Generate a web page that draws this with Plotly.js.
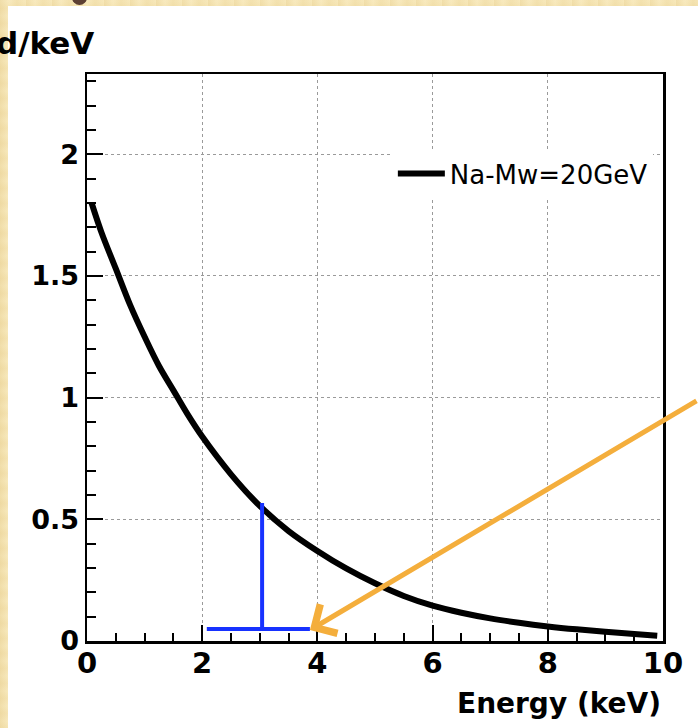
<!DOCTYPE html>
<html>
<head>
<meta charset="utf-8">
<script src="https://cdn.plot.ly/plotly-3.0.1.min.js"></script>
<style>
  html, body { margin: 0; padding: 0; }
  body {
    width: 698px; height: 728px; overflow: hidden; position: relative;
    background:
      repeating-linear-gradient(90deg, rgba(230,205,140,0.35) 0px, rgba(255,245,210,0.2) 9px, rgba(235,212,150,0.3) 17px, rgba(250,236,190,0.2) 26px),
      repeating-linear-gradient(0deg, rgba(238,215,155,0.35) 0px, rgba(252,240,200,0.2) 7px, rgba(236,210,148,0.3) 15px),
      #f5e5b6;
  }
  #panel { position: absolute; left: 8px; top: 6px; width: 690px; height: 722px; background: #ffffff; }
  #dot { position: absolute; left: 72px; top: -10px; width: 15px; height: 15px; border-radius: 50%; background: #5d4033; }
  #chart { position: absolute; left: 0; top: 0; width: 698px; height: 728px; }
</style>
</head>
<body>
<div id="panel"></div>
<div id="dot"></div>
<div id="chart"></div>
<script>
// Spectrum (Energy in keV, rate per keV)
const energy = [0.08, 0.25, 0.5, 0.75, 1.0, 1.25, 1.5, 1.75, 2.0, 2.5, 3.0, 3.5, 4.0, 4.5, 5.0, 5.5, 6.0, 6.5, 7.0, 7.5, 8.0, 8.5, 9.0, 9.5, 9.9];
const rate   = [1.80, 1.68, 1.53, 1.38, 1.25, 1.13, 1.03, 0.93, 0.84, 0.685, 0.555, 0.452, 0.37, 0.298, 0.237, 0.185, 0.145, 0.116, 0.093, 0.075, 0.06, 0.048, 0.038, 0.029, 0.022];
const seriesName = "Na-Mw=20GeV";

// Blue threshold marker and orange arrow target (data coordinates)
const markerVX = [3.04, 3.04];
const markerVY = [0.045, 0.567];
const markerHX = [2.08, 3.87];
const markerHY = [0.049, 0.049];
const arrowTip = [3.87, 0.045];

const xTitle = "Energy (keV)";
const yTitleFragment = "d/keV";

const boldFont = "DejaVu Sans, Liberation Sans, Arial, sans-serif";

const traces = [{
  x: energy, y: rate, type: "scatter", mode: "lines", name: seriesName,
  line: { color: "#000000", width: 6, shape: "spline", smoothing: 1 }
}];

const layout = {
  width: 698, height: 728,
  margin: { l: 87, r: 35, t: 74, b: 87, pad: 0 },
  paper_bgcolor: "rgba(0,0,0,0)",
  plot_bgcolor: "#ffffff",
  showlegend: true,
  legend: {
    x: 0.531, y: 0.866, xanchor: "left", yanchor: "top",
    bgcolor: "#ffffff", borderwidth: 0,
    font: { family: "DejaVu Sans, Liberation Sans, sans-serif", size: 26, color: "#000" },
    itemwidth: 47
  },
  xaxis: {
    range: [0, 10], dtick: 2, tick0: 0,
    showline: true, linecolor: "#000", linewidth: 2.5, mirror: true,
    ticks: "inside", ticklen: 16, tickwidth: 2, tickcolor: "#000",
    minor: { dtick: 0.5, ticks: "inside", ticklen: 8, tickwidth: 2, tickcolor: "#000", showgrid: false },
    showgrid: true, gridcolor: "#9a9a9a", gridwidth: 1, griddash: "dot",
    zeroline: false,
    tickfont: { family: boldFont, size: 29, color: "#000", weight: "bold" },
    ticklabelstandoff: -5
  },
  yaxis: {
    range: [0, 2.33], dtick: 0.5, tick0: 0,
    showline: true, linecolor: "#000", linewidth: 2.5, mirror: true,
    ticks: "inside", ticklen: 16, tickwidth: 2, tickcolor: "#000",
    minor: { dtick: 0.1, ticks: "inside", ticklen: 9, tickwidth: 2, tickcolor: "#000", showgrid: false },
    showgrid: true, gridcolor: "#9a9a9a", gridwidth: 1, griddash: "dot",
    zeroline: false,
    tickfont: { family: boldFont, size: 27, color: "#000", weight: "bold" },
    ticklabelstandoff: 0
  },
  shapes: [
    { type: "line", xref: "x", yref: "y", x0: markerVX[0], x1: markerVX[1], y0: markerVY[0], y1: markerVY[1],
      line: { color: "#1732ff", width: 4 } },
    { type: "line", xref: "x", yref: "y", x0: markerHX[0], x1: markerHX[1], y0: markerHY[0], y1: markerHY[1],
      line: { color: "#1732ff", width: 4 } }
  ],
  annotations: [
    { x: arrowTip[0], y: arrowTip[1], xref: "x", yref: "y", ax: 400, ay: -230, axref: "pixel", ayref: "pixel",
      showarrow: true, arrowhead: 4, arrowsize: 1.3, arrowwidth: 5, arrowcolor: "#f4ae3c", text: "" },
    { x: 1, y: -0.11, xref: "paper", yref: "paper", xanchor: "right", yanchor: "middle", showarrow: false,
      text: "<b>" + xTitle + "</b>", font: { family: boldFont, size: 28, color: "#000" } },
    { x: -0.162, y: 1.055, xref: "paper", yref: "paper", xanchor: "left", yanchor: "middle", showarrow: false,
      text: "<b>" + yTitleFragment + "</b>", font: { family: boldFont, size: 31, color: "#000" } }
  ]
};

Plotly.newPlot("chart", traces, layout, { displayModeBar: false, staticPlot: true });
</script>
</body>
</html>
